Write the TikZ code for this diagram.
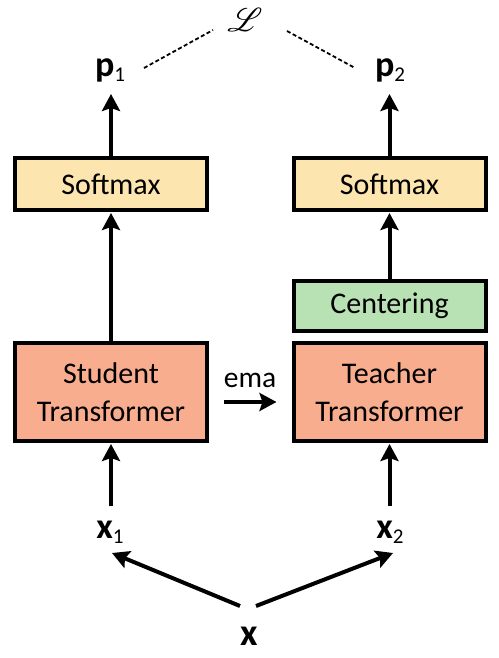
\documentclass[tikz,border=0pt]{standalone}
\usepackage{fontspec}
\setmainfont{Carlito}
\usepackage{mathrsfs}
\usetikzlibrary{arrows.meta}
\definecolor{smfill}{HTML}{FDE5AF}
\definecolor{cefill}{HTML}{B8E2B3}
\definecolor{trfill}{HTML}{F9AD8F}
\tikzset{
  box/.style={draw=black, line width=4pt, minimum width=192pt, inner sep=0pt, align=center,
    font=\fontsize{30}{38}\selectfont},
  arr/.style={line width=4pt, -{Stealth[length=17pt,width=18pt,inset=3pt]}},
  dots/.style={line width=1.8pt, dash pattern=on 4pt off 2.5pt},
  lbl/.style={font=\fontsize{36}{40}\selectfont\bfseries, inner sep=0pt}
}
\newcommand{\sbn}[1]{\raisebox{-0.3ex}{\mdseries\fontsize{21}{21}\selectfont #1}}
\begin{document}
\begin{tikzpicture}[x=1pt,y=-1pt]
\useasboundingbox[fill=white] (0,0) rectangle (498,658);
% boxes
\node[box, fill=smfill, minimum height=52pt] (sm1) at (111,184) {Softmax};
\node[box, fill=smfill, minimum height=52pt] (sm2) at (389.5,184) {Softmax};
\node[box, fill=cefill, minimum height=50pt] (cen) at (389.5,306) {Centering};
\node[box, fill=trfill, minimum height=98pt] (st) at (111,392) {Student\\Transformer};
\node[box, fill=trfill, minimum height=98pt] (te) at (389.5,392) {Teacher\\Transformer};
% labels
\node[inner sep=0pt] (L) at (245,19.5) {\scalebox{3.3}{$\mathscr{L}$}};
\node[lbl] (p1) at (110,70) {p\sbn{1}};
\node[lbl] (p2) at (390,70) {p\sbn{2}};
\node[lbl] (x1) at (110,532) {x\sbn{1}};
\node[lbl] (x2) at (390,532) {x\sbn{2}};
\node[lbl, font=\fontsize{38}{40}\selectfont\bfseries] (x) at (249,636) {x};
\node[font=\fontsize{29.5}{35}\selectfont, inner sep=0pt] (ema) at (250,380) {ema};
% dotted loss lines
\coordinate (d1) at (144,68);
\coordinate (d2) at (213,30);
\coordinate (d3) at (287,31);
\coordinate (d4) at (355,68);
\draw[dots] (d1) -- (d2);
\draw[dots] (d3) -- (d4);
% arrows
\coordinate (t1) at (111,94);
\coordinate (t2) at (389.5,94);
\coordinate (b1) at (111,506);
\coordinate (b2) at (389.5,506);
\draw[arr] (sm1.north) -- (t1);
\draw[arr] (sm2.north) -- (t2);
\draw[arr, shorten >=1pt] (st.north) -- (sm1.south);
\draw[arr, shorten >=1pt] (cen.north) -- (sm2.south);
\draw[arr, shorten >=1pt] (b1) -- (st.south);
\draw[arr, shorten >=1pt] (b2) -- (te.south);
\draw[arr, shorten <=15pt, shorten >=15pt] ([yshift=-10pt]st.east) -- ([yshift=-10pt]te.west);
\coordinate (xl) at (240,606);
\coordinate (xr) at (256,606);
\coordinate (x1t) at (112,553);
\coordinate (x2t) at (393,553);
\draw[arr] (xl) -- (x1t);
\draw[arr] (xr) -- (x2t);
\end{tikzpicture}
\end{document}
